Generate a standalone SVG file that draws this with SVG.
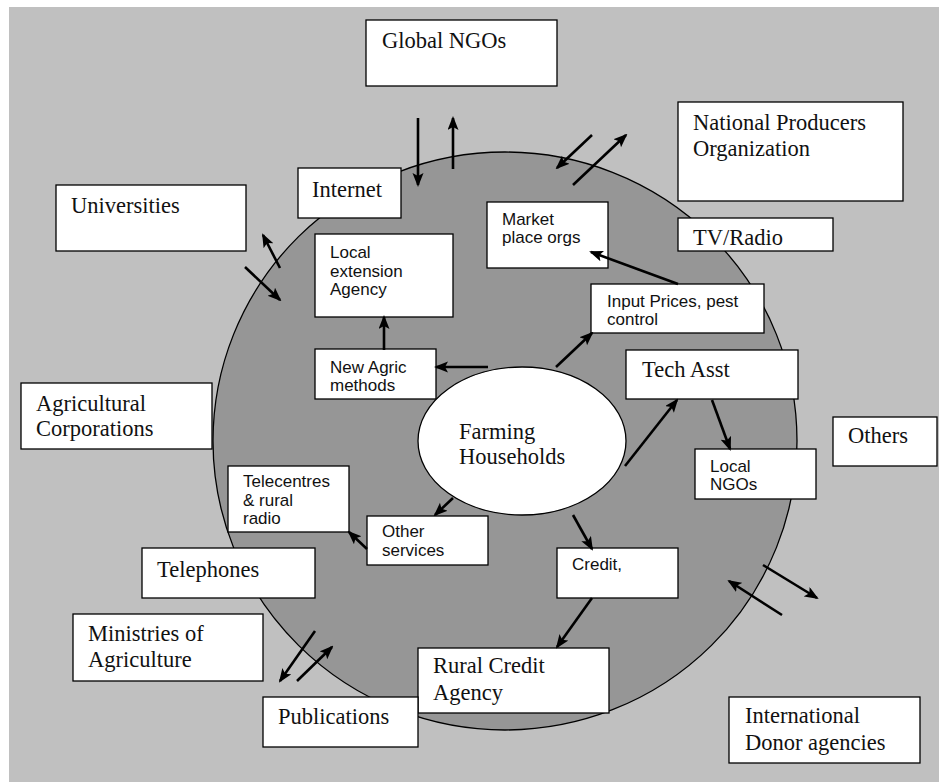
<svg xmlns="http://www.w3.org/2000/svg" width="939" height="782" viewBox="0 0 939 782">
<defs>
<style>
.box{fill:#fff;stroke:#000;stroke-width:1.3}
.serif{font-family:"Liberation Serif","Times New Roman",serif;font-size:22.5px;fill:#111}
.sans{font-family:"Liberation Sans",Arial,sans-serif;font-size:17px;fill:#111}
.arr{stroke:#000;stroke-width:2.6;fill:none;marker-end:url(#ah)}
</style>
<marker id="ah" markerUnits="userSpaceOnUse" markerWidth="14" markerHeight="12" refX="12" refY="5.5" orient="auto">
<path d="M0,0 L14,5.5 L0,11 L3,5.5 z" fill="#000"/>
</marker>
</defs>
<rect x="0" y="0" width="939" height="782" fill="#fff"/>
<rect x="9" y="7" width="930" height="775" fill="#c0c0c0"/>
<ellipse id="sphere" cx="505" cy="441" rx="292" ry="289" fill="#969696" stroke="#000" stroke-width="1.3"/>

<g id="global-ngos"><rect class="box" x="366" y="20" width="191" height="66"/><text class="serif" x="382" y="48">Global NGOs</text></g>
<g id="internet"><rect class="box" x="298" y="168" width="103" height="50"/><text class="serif" x="312" y="197">Internet</text></g>
<g id="universities"><rect class="box" x="56" y="185" width="190" height="66"/><text class="serif" x="71" y="213">Universities</text></g>
<g id="national-producers"><rect class="box" x="678" y="102" width="225" height="99"/><text class="serif" x="693" y="130">National Producers</text><text class="serif" x="693" y="156">Organization</text></g>
<g id="tv-radio"><rect class="box" x="678" y="218" width="155" height="33"/><text class="serif" x="693" y="245">TV/Radio</text></g>
<g id="market-place"><rect class="box" x="487" y="202" width="121" height="66"/><text class="sans" x="502" y="225">Market</text><text class="sans" x="502" y="243">place orgs</text></g>
<g id="local-extension"><rect class="box" x="315" y="234" width="138" height="83"/><text class="sans" x="330" y="258">Local</text><text class="sans" x="330" y="277">extension</text><text class="sans" x="330" y="295">Agency</text></g>
<g id="input-prices"><rect class="box" x="591" y="284" width="173" height="49"/><text class="sans" x="607" y="307">Input Prices, pest</text><text class="sans" x="607" y="325">control</text></g>
<g id="new-agric"><rect class="box" x="315" y="349" width="121" height="50"/><text class="sans" x="330" y="373">New Agric</text><text class="sans" x="330" y="391">methods</text></g>
<g id="tech-asst"><rect class="box" x="626" y="350" width="172" height="49"/><text class="serif" x="642" y="377">Tech Asst</text></g>
<g id="agri-corp"><rect class="box" x="21" y="383" width="191" height="66"/><text class="serif" x="36" y="411">Agricultural</text><text class="serif" x="36" y="436">Corporations</text></g>
<g id="farming-households"><ellipse cx="522" cy="441" rx="104" ry="74" fill="#fff" stroke="#000" stroke-width="1.3"/><text class="serif" x="459" y="439">Farming</text><text class="serif" x="459" y="464">Households</text></g>
<g id="others"><rect class="box" x="833" y="417" width="104" height="49"/><text class="serif" x="848" y="443">Others</text></g>
<g id="local-ngos"><rect class="box" x="695" y="449" width="121" height="50"/><text class="sans" x="710" y="472">Local</text><text class="sans" x="710" y="490">NGOs</text></g>
<g id="telecentres"><rect class="box" x="228" y="466" width="121" height="66"/><text class="sans" x="243" y="487">Telecentres</text><text class="sans" x="243" y="506">&amp; rural</text><text class="sans" x="243" y="524">radio</text></g>
<g id="other-services"><rect class="box" x="367" y="516" width="121" height="49"/><text class="sans" x="382" y="537">Other</text><text class="sans" x="382" y="556">services</text></g>
<g id="telephones"><rect class="box" x="142" y="548" width="173" height="50"/><text class="serif" x="157" y="577">Telephones</text></g>
<g id="credit"><rect class="box" x="557" y="548" width="121" height="50"/><text class="sans" x="572" y="570">Credit,</text></g>
<g id="ministries"><rect class="box" x="73" y="614" width="190" height="67"/><text class="serif" x="88" y="641">Ministries of</text><text class="serif" x="88" y="667">Agriculture</text></g>
<g id="rural-credit"><rect class="box" x="418" y="648" width="191" height="65"/><text class="serif" x="433" y="673">Rural Credit</text><text class="serif" x="433" y="700">Agency</text></g>
<g id="publications"><rect class="box" x="263" y="697" width="155" height="50"/><text class="serif" x="278" y="724">Publications</text></g>
<g id="donor-agencies"><rect class="box" x="729" y="697" width="191" height="66"/><text class="serif" x="745" y="723">International</text><text class="serif" x="745" y="750">Donor agencies</text></g>

<g id="connectors">
<line class="arr" x1="418" y1="118" x2="418" y2="185"/>
<line class="arr" x1="453" y1="169" x2="453" y2="118"/>
<line class="arr" x1="592" y1="135" x2="557" y2="168"/>
<line class="arr" x1="573" y1="185" x2="626" y2="135"/>
<line class="arr" x1="280" y1="268" x2="263" y2="235"/>
<line class="arr" x1="245" y1="267" x2="280" y2="300"/>
<line class="arr" x1="678" y1="284" x2="591" y2="252"/>
<line class="arr" x1="384" y1="350" x2="384" y2="317"/>
<line class="arr" x1="488" y1="367" x2="436" y2="367"/>
<line class="arr" x1="556" y1="367" x2="592" y2="333"/>
<line class="arr" x1="625" y1="466" x2="677" y2="400"/>
<line class="arr" x1="712" y1="400" x2="730" y2="449"/>
<line class="arr" x1="453" y1="498" x2="435" y2="515"/>
<line class="arr" x1="367" y1="549" x2="349" y2="532"/>
<line class="arr" x1="573" y1="515" x2="592" y2="549"/>
<line class="arr" x1="592" y1="598" x2="557" y2="647"/>
<line class="arr" x1="763" y1="565" x2="817" y2="598"/>
<line class="arr" x1="782" y1="615" x2="729" y2="581"/>
<line class="arr" x1="315" y1="631" x2="280" y2="681"/>
<line class="arr" x1="297" y1="681" x2="332" y2="647"/>
</g>
</svg>
